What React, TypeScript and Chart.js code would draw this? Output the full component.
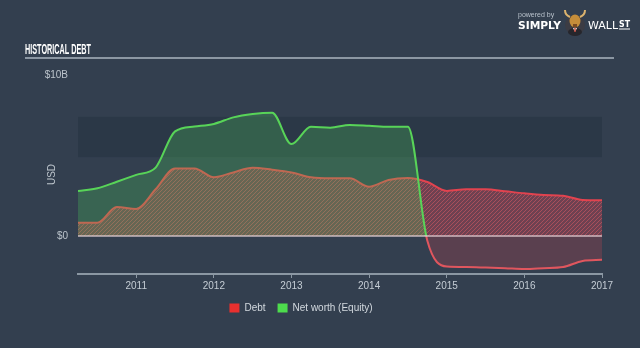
import React, { useEffect, useRef } from 'react';
import { Chart, registerables } from 'chart.js';

Chart.register(...registerables);

// ---- Data ----
const quarters = [
  2010.25, 2010.5, 2010.75, 2011.0, 2011.25, 2011.5, 2011.75, 2012.0,
  2012.25, 2012.5, 2012.75, 2013.0, 2013.25, 2013.5, 2013.75, 2014.0,
  2014.25, 2014.5, 2014.75, 2015.0, 2015.25, 2015.5, 2015.75, 2016.0,
  2016.25, 2016.5, 2016.75, 2017.0,
];
const debtValues = [
  0.83, 0.83, 1.8, 1.68, 2.9, 4.2, 4.2, 3.65,
  3.95, 4.24, 4.12, 3.95, 3.65, 3.58, 3.58, 3.06,
  3.48, 3.6, 3.35, 2.8, 2.9, 2.9, 2.78, 2.65,
  2.55, 2.5, 2.24, 2.22,
];
const equityValues = [
  2.8, 2.96, 3.37, 3.8, 4.25, 6.5, 6.8, 6.96,
  7.37, 7.58, 7.66, 5.71, 6.79, 6.73, 6.9, 6.85,
  6.79, 6.79, -0.3, -1.9, -1.93, -1.96, -2.0, -2.05,
  -2.0, -1.93, -1.55, -1.48,
];
const yearTicks = [2011, 2012, 2013, 2014, 2015, 2016, 2017];
const yTickValues = [0, 10];
const yTickLabels = ['$0', '$10B'];
const seriesNames = ['Debt', 'Net worth (Equity)'];
const bandRange = [4.9, 7.4];

const GREEN = '#58d458';
const RED = '#e2434f';
const NEG_RED = '#e0565e';
const FONT = '"Liberation Sans Narrow", "Liberation Sans", sans-serif';

function makeHatch(): CanvasPattern | string {
  const c = document.createElement('canvas');
  c.width = 4;
  c.height = 4;
  const g = c.getContext('2d');
  if (!g) return 'rgba(225,70,85,0.45)';
  g.fillStyle = 'rgba(225,70,85,0.34)';
  g.fillRect(0, 0, 4, 4);
  g.strokeStyle = 'rgba(240,95,105,0.45)';
  g.lineWidth = 1;
  g.beginPath();
  g.moveTo(0, 4); g.lineTo(4, 0);
  g.moveTo(-1, 1); g.lineTo(1, -1);
  g.moveTo(3, 5); g.lineTo(5, 3);
  g.stroke();
  return g.createPattern(c, 'repeat') || 'rgba(225,70,85,0.45)';
}

const decorPlugin = {
  id: 'decor',
  beforeDatasetsDraw(chart: any) {
    const { ctx, chartArea, scales } = chart;
    const y1 = scales.y.getPixelForValue(bandRange[1]);
    const y0 = scales.y.getPixelForValue(bandRange[0]);
    ctx.save();
    ctx.fillStyle = 'rgba(20,30,45,0.22)';
    ctx.fillRect(chartArea.left, y1, chartArea.right - chartArea.left, y0 - y1);
    ctx.restore();
  },
  afterDatasetsDraw(chart: any) {
    const { ctx, chartArea, scales } = chart;
    const y = Math.round(scales.y.getPixelForValue(0));
    ctx.save();
    ctx.fillStyle = 'rgba(235,215,220,0.6)';
    ctx.fillRect(chartArea.left, y - 1, chartArea.right - chartArea.left, 2);
    ctx.restore();
  },
  afterDraw(chart: any) {
    const { ctx } = chart;
    ctx.save();
    // Title
    ctx.fillStyle = '#ffffff';
    ctx.font = `bold 14px ${FONT}`;
    ctx.textBaseline = 'alphabetic';
    ctx.fillText('HISTORICAL DEBT', 25, 53.5, 66);
    ctx.fillStyle = '#8c97a3';
    ctx.fillRect(25, 57, 589, 2);
    // Logo
    ctx.fillStyle = '#b8c1cb';
    ctx.font = '7px "Liberation Sans", sans-serif';
    ctx.fillText('powered by', 518, 17, 39);
    ctx.fillStyle = '#ffffff';
    ctx.font = 'bold 11px "DejaVu Sans", sans-serif';
    ctx.fillText('SIMPLY', 518, 29, 43);
    ctx.font = '11px "DejaVu Sans", sans-serif';
    ctx.fillText('WALL', 588, 29, 30);
    ctx.font = 'bold 8px "DejaVu Sans", sans-serif';
    ctx.fillText('ST', 619, 27, 11);
    ctx.fillRect(619, 28.5, 11, 1);
    // bull icon
    ctx.fillStyle = '#3c3c44';
    ctx.beginPath();
    ctx.arc(575, 25, 10, 0, Math.PI * 2);
    ctx.fill();
    ctx.fillStyle = '#26262c';
    ctx.beginPath();
    ctx.ellipse(575, 32, 7, 4, 0, 0, Math.PI * 2);
    ctx.fill();
    ctx.fillStyle = '#c58d3a';
    ctx.beginPath();
    ctx.ellipse(575, 21, 5.5, 6.5, 0, 0, Math.PI * 2);
    ctx.fill();
    ctx.strokeStyle = '#dcb36e';
    ctx.lineWidth = 2;
    ctx.beginPath();
    ctx.moveTo(570, 17); ctx.quadraticCurveTo(565, 15, 565, 10);
    ctx.moveTo(580, 17); ctx.quadraticCurveTo(585, 15, 585, 10);
    ctx.stroke();
    ctx.fillStyle = '#7a4a22';
    ctx.fillRect(573, 24, 4, 3);
    ctx.fillStyle = '#ffffff';
    ctx.beginPath();
    ctx.moveTo(573, 28); ctx.lineTo(577, 28); ctx.lineTo(575, 32); ctx.closePath();
    ctx.fill();
    ctx.fillStyle = '#c0392b';
    ctx.fillRect(574.3, 28, 1.4, 4);
    ctx.restore();
  },
};

export default function App() {
  const canvasRef = useRef<HTMLCanvasElement | null>(null);

  useEffect(() => {
    const canvas = canvasRef.current;
    if (!canvas) return;
    const hatch = makeHatch();

    const chart = new Chart(canvas, {
      type: 'line',
      data: {
        datasets: [
          {
            label: seriesNames[0],
            data: quarters.map((q, i) => ({ x: q, y: debtValues[i] })),
            borderColor: RED,
            borderWidth: 2,
            backgroundColor: hatch as any,
            fill: 'origin',
            pointRadius: 0,
            cubicInterpolationMode: 'monotone',
            order: 1,
          },
          {
            label: seriesNames[1],
            data: quarters.map((q, i) => ({ x: q, y: equityValues[i] })),
            borderColor: (ctx: any) => {
              const c = ctx.chart;
              const area = c.chartArea;
              if (!area) return GREEN;
              const y0 = c.scales.y.getPixelForValue(0);
              const g = c.ctx.createLinearGradient(0, area.top, 0, area.bottom);
              const f = Math.min(1, Math.max(0, (y0 - area.top) / (area.bottom - area.top)));
              g.addColorStop(0, GREEN);
              g.addColorStop(f, GREEN);
              g.addColorStop(f, NEG_RED);
              g.addColorStop(1, NEG_RED);
              return g;
            },
            borderWidth: 2,
            backgroundColor: 'rgba(80,220,90,0.24)',
            fill: { target: 'origin', above: 'rgba(80,220,90,0.24)', below: 'rgba(230,70,80,0.22)' },
            pointRadius: 0,
            cubicInterpolationMode: 'monotone',
            order: 0,
          },
        ],
      },
      options: {
        responsive: false,
        animation: false,
        devicePixelRatio: 1,
        layout: { padding: { top: 75, right: 38, left: 0, bottom: 25 } },
        plugins: {
          tooltip: { enabled: false },
          legend: {
            position: 'bottom',
            labels: {
              boxWidth: 10,
              boxHeight: 9,
              padding: 12,
              color: '#d3d9df',
              font: { family: FONT, size: 10 },
              generateLabels: () => [
                { text: seriesNames[0], fillStyle: '#e8302f', strokeStyle: '#e8302f', lineWidth: 0, datasetIndex: 0, fontColor: '#d3d9df', hidden: false },
                { text: seriesNames[1], fillStyle: '#4ddc4d', strokeStyle: '#4ddc4d', lineWidth: 0, datasetIndex: 1, fontColor: '#d3d9df', hidden: false },
              ] as any,
            },
          },
        },
        scales: {
          x: {
            type: 'linear',
            min: quarters[0],
            max: quarters[quarters.length - 1],
            afterBuildTicks: (scale: any) => {
              scale.ticks = yearTicks.map((v) => ({ value: v }));
            },
            afterFit: (scale: any) => {
              scale.height = 17;
            },
            ticks: {
              color: '#c5cdd5',
              font: { family: FONT, size: 10 },
              padding: 2,
              maxRotation: 0,
              autoSkip: false,
              callback: (v: any) => String(v),
            },
            grid: { display: true, drawOnChartArea: false, drawTicks: true, tickLength: 4, color: '#8b97a3', lineWidth: 1 },
            border: { display: true, color: '#8b97a3', width: 2 },
          },
          y: {
            type: 'linear',
            min: -2.36,
            max: 10,
            afterBuildTicks: (scale: any) => {
              scale.ticks = yTickValues.map((v) => ({ value: v }));
            },
            afterFit: (scale: any) => {
              scale.width = 78;
            },
            ticks: {
              color: '#bcc4cc',
              font: { family: FONT, size: 10 },
              padding: 10,
              callback: (v: any) => yTickLabels[yTickValues.indexOf(Number(v))] ?? '',
            },
            grid: { display: false, drawTicks: false },
            border: { display: false },
            title: {
              display: true,
              text: 'USD',
              color: '#bcc4cc',
              font: { family: FONT, size: 10 },
              padding: { top: 46, bottom: 0 },
            },
          },
        },
      } as any,
      plugins: [decorPlugin],
    });

    return () => {
      chart.destroy();
    };
  }, []);

  return (
    <div
      style={{
        position: 'fixed',
        left: 0,
        top: 0,
        width: 640,
        height: 348,
        background: '#333f4f',
        overflow: 'hidden',
      }}
    >
      <canvas ref={canvasRef} width={640} height={348} style={{ display: 'block', width: 640, height: 348 }} />
    </div>
  );
}
